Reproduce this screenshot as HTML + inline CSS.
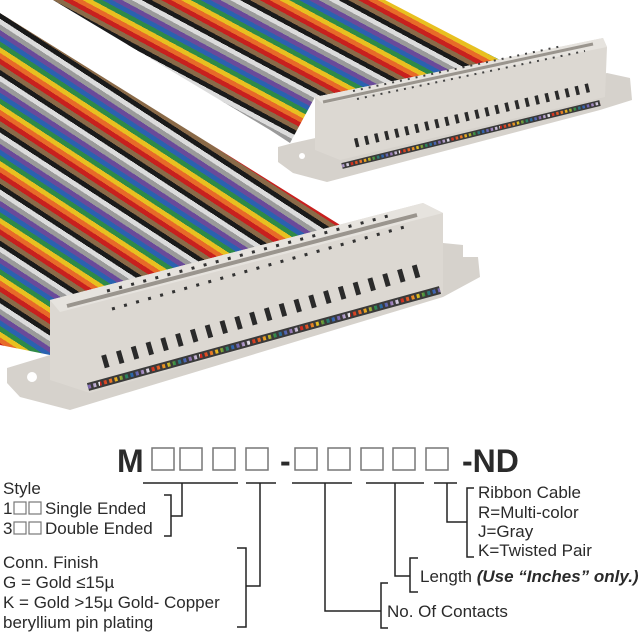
<!DOCTYPE html>
<html><head><meta charset="utf-8"><style>
html,body{margin:0;padding:0;background:#fff;}
svg{display:block;}
text{font-family:"Liberation Sans",Arial,sans-serif;fill:#2a2a2a;}
</style></head><body>
<svg width="640" height="640" viewBox="0 0 640 640" xmlns="http://www.w3.org/2000/svg">
<defs>
<linearGradient id="gf" gradientUnits="userSpaceOnUse" x1="0" y1="13" x2="-26" y2="53" spreadMethod="repeat">
<stop offset="0" stop-color="#1a1a1a"/><stop offset=".1" stop-color="#1a1a1a"/>
<stop offset=".1" stop-color="#dcdcdc"/><stop offset=".2" stop-color="#dcdcdc"/>
<stop offset=".2" stop-color="#9a9a9a"/><stop offset=".3" stop-color="#9a9a9a"/>
<stop offset=".3" stop-color="#6a4a9a"/><stop offset=".4" stop-color="#6a4a9a"/>
<stop offset=".4" stop-color="#2a62b0"/><stop offset=".5" stop-color="#2a62b0"/>
<stop offset=".5" stop-color="#2e8a48"/><stop offset=".6" stop-color="#2e8a48"/>
<stop offset=".6" stop-color="#e8c020"/><stop offset=".7" stop-color="#e8c020"/>
<stop offset=".7" stop-color="#e86a28"/><stop offset=".8" stop-color="#e86a28"/>
<stop offset=".8" stop-color="#c8201e"/><stop offset=".9" stop-color="#c8201e"/>
<stop offset=".9" stop-color="#8a6a48"/><stop offset="1" stop-color="#8a6a48"/>
</linearGradient>
<linearGradient id="gb" gradientUnits="userSpaceOnUse" x1="53" y1="0" x2="75" y2="-41" spreadMethod="repeat">
<stop offset="0" stop-color="#8a6a48"/><stop offset=".1" stop-color="#8a6a48"/>
<stop offset=".1" stop-color="#c8201e"/><stop offset=".2" stop-color="#c8201e"/>
<stop offset=".2" stop-color="#e86a28"/><stop offset=".3" stop-color="#e86a28"/>
<stop offset=".3" stop-color="#e8c020"/><stop offset=".4" stop-color="#e8c020"/>
<stop offset=".4" stop-color="#2e8a48"/><stop offset=".5" stop-color="#2e8a48"/>
<stop offset=".5" stop-color="#2a62b0"/><stop offset=".6" stop-color="#2a62b0"/>
<stop offset=".6" stop-color="#6a4a9a"/><stop offset=".7" stop-color="#6a4a9a"/>
<stop offset=".7" stop-color="#9a9a9a"/><stop offset=".8" stop-color="#9a9a9a"/>
<stop offset=".8" stop-color="#dcdcdc"/><stop offset=".9" stop-color="#dcdcdc"/>
<stop offset=".9" stop-color="#1a1a1a"/><stop offset="1" stop-color="#1a1a1a"/>
</linearGradient>
<linearGradient id="gd" gradientUnits="userSpaceOnUse" x1="0" y1="0" x2="50" y2="0" spreadMethod="repeat">
<stop offset="0" stop-color="#c8201e"/><stop offset=".2" stop-color="#e86a28"/>
<stop offset=".35" stop-color="#e8c020"/><stop offset=".5" stop-color="#2e8a48"/>
<stop offset=".65" stop-color="#2a62b0"/><stop offset=".8" stop-color="#8a6ab0"/>
<stop offset="1" stop-color="#eeeeee"/>
</linearGradient>
</defs>

<!-- back cable -->
<polygon points="53,0 385,0 500,60 315,97 290,143 270,130" fill="url(#gb)"/>
<!-- back connector -->
<polygon points="278,147 293,143 607,73 630,78 632,100 600,110 327,182 293,173 278,162" fill="#d6d2cc"/>
<circle cx="302" cy="156" r="3" fill="#fff"/>
<polygon points="315,97 603,38 607,47 605,97 340,160 315,150" fill="#dcd8d2"/>
<polygon points="315,97 603,38 607,47 323,104" fill="#e6e3de"/>
<line x1="342" y1="166" x2="600" y2="103" stroke="#3a3a3a" stroke-width="6"/>
<line x1="342" y1="166" x2="600" y2="103" stroke="url(#gd)" stroke-width="3" stroke-dasharray="2.5 2"/>
<line x1="323" y1="102" x2="593" y2="44" stroke="#9a958e" stroke-width="3"/>
<line x1="353" y1="91" x2="562" y2="46" stroke="#444" stroke-width="2" stroke-dasharray="2 6"/>
<line x1="357" y1="99" x2="585" y2="51" stroke="#444" stroke-width="2" stroke-dasharray="2 6"/>
<line x1="355" y1="143" x2="592" y2="87" stroke="#2a2a2a" stroke-width="9" stroke-dasharray="3.5 6.8"/>

<!-- front cable -->
<polygon points="0,13 345,228 60,345 50,355 0,345" fill="url(#gf)"/>
<!-- front connector -->
<polygon points="7,368 50,355 443,243 463,245 463,257 478,257 480,277 443,297 70,410 20,397 7,383" fill="#d6d2cc"/>
<circle cx="32" cy="377" r="5" fill="#fff"/>
<polygon points="50,300 423,203 443,213 443,293 90,393 50,380" fill="#dcd8d2"/>
<polygon points="50,300 423,203 443,213 60,312" fill="#e6e3de"/>
<line x1="88" y1="387" x2="440" y2="290" stroke="#3a3a3a" stroke-width="8"/>
<line x1="88" y1="387" x2="440" y2="290" stroke="url(#gd)" stroke-width="4" stroke-dasharray="3 2.5"/>
<line x1="67" y1="306" x2="417" y2="215" stroke="#9a958e" stroke-width="4"/>
<line x1="107" y1="291" x2="388" y2="216" stroke="#333" stroke-width="3" stroke-dasharray="3 9.5"/>
<line x1="112" y1="309" x2="408" y2="226" stroke="#333" stroke-width="3" stroke-dasharray="3 9.5"/>
<line x1="103" y1="362" x2="428" y2="268" stroke="#2a2a2a" stroke-width="13" stroke-dasharray="5 10.4"/>

<!-- part number -->
<g font-weight="bold" font-size="32">
<text x="117" y="472">M</text>
<text x="280" y="472">-</text>
<text x="462" y="472">-ND</text>
</g>
<g fill="none" stroke="#777" stroke-width="1.5">
<rect x="152" y="448" width="22" height="22"/><rect x="180" y="448" width="22" height="22"/>
<rect x="213" y="448" width="22" height="22"/><rect x="246" y="448" width="22" height="22"/>
<rect x="295" y="448" width="22" height="22"/><rect x="328" y="448" width="22" height="22"/>
<rect x="361" y="448" width="22" height="22"/><rect x="393" y="448" width="22" height="22"/>
<rect x="426" y="448" width="22" height="22"/>
</g>

<g fill="none" stroke="#222" stroke-width="1.5">
<path d="M143 483H238M246 483H276M292 483H352M366 483H424M434 483H457"/>
<path d="M182 483V516H171M164 495H171V536H164"/>
<path d="M260 483V586H246M237 548H246V627H237"/>
<path d="M325 483V611H381M388 583H381V628H388"/>
<path d="M395 483V576H410M418 558H410V592H418"/>
<path d="M447 483V522H467M474 488H467V557H474"/>
</g>

<g font-size="17">
<text x="3" y="494">Style</text>
<text x="3" y="514">1</text><text x="45" y="514">Single Ended</text>
<text x="3" y="534">3</text><text x="45" y="534">Double Ended</text>
<text x="3" y="568">Conn. Finish</text>
<text x="3" y="588">G = Gold ≤15µ</text>
<text x="3" y="608">K = Gold &gt;15µ Gold- Copper</text>
<text x="3" y="628">beryllium pin plating</text>
<text x="387" y="617">No. Of Contacts</text>
<text x="420" y="582">Length <tspan font-weight="bold" font-style="italic">(Use “Inches” only.)</tspan></text>
<text x="478" y="498">Ribbon Cable</text>
<text x="478" y="518">R=Multi-color</text>
<text x="478" y="537">J=Gray</text>
<text x="478" y="556">K=Twisted Pair</text>
</g>
<g fill="none" stroke="#777" stroke-width="1.2">
<rect x="14" y="502" width="12" height="12"/><rect x="29" y="502" width="12" height="12"/>
<rect x="14" y="522" width="12" height="12"/><rect x="29" y="522" width="12" height="12"/>
</g>
</svg>
</body></html>
